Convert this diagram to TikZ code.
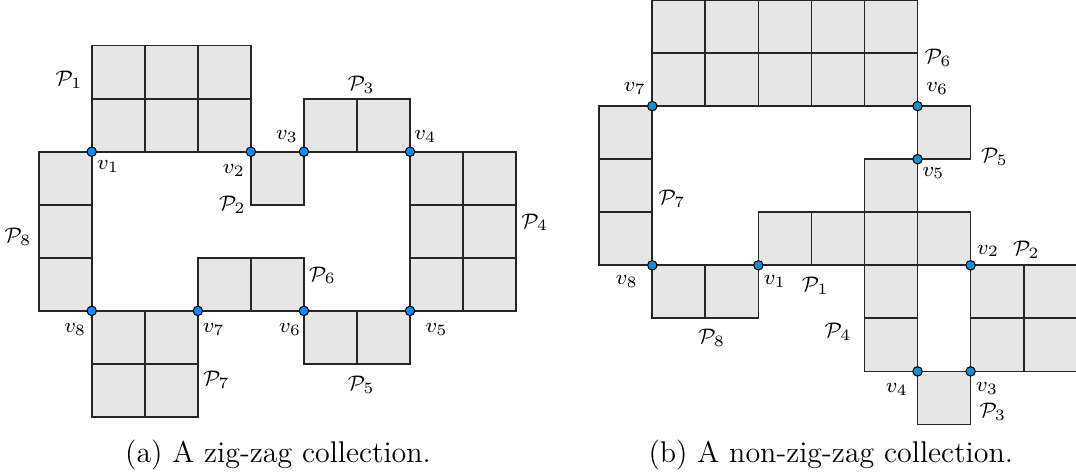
\documentclass[tikz,border=0pt]{standalone}
\usepackage{amsmath, amssymb}
\usepackage{xcolor}
\definecolor{cell-fill}{HTML}{E6E6E6}
\definecolor{cell-line}{HTML}{262626}
\definecolor{vert-blue}{HTML}{0A8CFF}
\definecolor{vert-teal}{HTML}{1A8FCC}

\begin{document}
\begin{tikzpicture}[x=0.709cm, y=0.709cm,
      every node/.style={font=\footnotesize},
      cell/.style={draw=cell-line, line width=0.65pt, fill=cell-fill},
      cellgrid/.style={draw=cell-line, line width=0.65pt, step=1},
      vert/.style={circle, draw=black, line width=0.4pt, fill=vert-blue,
                   inner sep=0pt, minimum size=3.6pt},
      caption/.style={font=\fontsize{11.4}{14}\selectfont, anchor=base}]
  \useasboundingbox (0,0) rectangle (20.283,-8.935);
  % ---- (a): zig-zag collection, origin at v1
  \begin{scope}[shift={(1.729,-2.860)}]
    \draw[cell] (0,0) rectangle (3,2);   \draw[cellgrid] (0,0) grid (3,2);
    \draw[cell] (3,-1) rectangle (4,0);
    \draw[cell] (4,0) rectangle (6,1);   \draw[cellgrid] (4,0) grid (6,1);
    \draw[cell] (6,-3) rectangle (8,0);  \draw[cellgrid] (6,-3) grid (8,0);
    \draw[cell] (4,-4) rectangle (6,-3); \draw[cellgrid] (4,-4) grid (6,-3);
    \draw[cell] (2,-3) rectangle (4,-2); \draw[cellgrid] (2,-3) grid (4,-2);
    \draw[cell] (0,-5) rectangle (2,-3); \draw[cellgrid] (0,-5) grid (2,-3);
    \draw[cell] (-1,-3) rectangle (0,0); \draw[cellgrid] (-1,-3) grid (0,0);
    \node (a-P1) at (-0.43,1.35) {$\mathcal{P}_1$};
    \node (a-P2) at (2.65,-1.0)  {$\mathcal{P}_2$};
    \node (a-P3) at (5.08,1.26)  {$\mathcal{P}_3$};
    \node (a-P4) at (8.35,-1.33) {$\mathcal{P}_4$};
    \node (a-P5) at (5.08,-4.4)  {$\mathcal{P}_5$};
    \node (a-P6) at (4.35,-2.33) {$\mathcal{P}_6$};
    \node (a-P7) at (2.35,-4.3)  {$\mathcal{P}_7$};
    \node (a-P8) at (-1.39,-1.61) {$\mathcal{P}_8$};
    \node[vert] (a-v1) at (0,0)  {};
    \node[vert] (a-v2) at (3,0)  {};
    \node[vert] (a-v3) at (4,0)  {};
    \node[vert] (a-v4) at (6,0)  {};
    \node[vert] (a-v5) at (6,-3) {};
    \node[vert] (a-v6) at (4,-3) {};
    \node[vert] (a-v7) at (2,-3) {};
    \node[vert] (a-v8) at (0,-3) {};
    \node (a-lv1) at (0.31,-0.27) {$v_1$};
    \node (a-lv2) at (2.68,-0.35) {$v_2$};
    \node (a-lv3) at (3.68,0.28)  {$v_3$};
    \node (a-lv4) at (6.29,0.28)  {$v_4$};
    \node (a-lv5) at (6.5,-3.35)  {$v_5$};
    \node (a-lv6) at (3.74,-3.35) {$v_6$};
    \node (a-lv7) at (2.3,-3.35)  {$v_7$};
    \node (a-lv8) at (-0.31,-3.35) {$v_8$};
  \end{scope}
  % ---- (b): non-zig-zag collection, origin at v8
  \begin{scope}[shift={(12.296,-5.001)}, vert/.append style={fill=vert-teal}]
    \draw[cell] (4,-2) rectangle (5,2);  \draw[cellgrid] (4,-2) grid (5,2);
    \draw[cell] (2,0) rectangle (6,1);   \draw[cellgrid] (2,0) grid (6,1);
    \draw[cell] (6,-2) rectangle (8,0);  \draw[cellgrid] (6,-2) grid (8,0);
    \draw[cell] (5,-3) rectangle (6,-2);
    \draw[cell] (5,2) rectangle (6,3);
    \draw[cell] (0,3) rectangle (5,5);   \draw[cellgrid] (0,3) grid (5,5);
    \draw[cell] (-1,0) rectangle (0,3);  \draw[cellgrid] (-1,0) grid (0,3);
    \draw[cell] (0,-1) rectangle (2,0);  \draw[cellgrid] (0,-1) grid (2,0);
    \node (b-P1) at (3.07,-0.39) {$\mathcal{P}_1$};
    \node (b-P2) at (7.05,0.29)  {$\mathcal{P}_2$};
    \node (b-P3) at (6.42,-2.77) {$\mathcal{P}_3$};
    \node (b-P4) at (3.5,-1.26)  {$\mathcal{P}_4$};
    \node (b-P5) at (6.45,2.04)  {$\mathcal{P}_5$};
    \node (b-P6) at (5.39,3.91)  {$\mathcal{P}_6$};
    \node (b-P7) at (0.37,1.25)  {$\mathcal{P}_7$};
    \node (b-P8) at (1.12,-1.37) {$\mathcal{P}_8$};
    \node[vert] (b-v1) at (2,0)  {};
    \node[vert] (b-v2) at (6,0)  {};
    \node[vert] (b-v3) at (6,-2) {};
    \node[vert] (b-v4) at (5,-2) {};
    \node[vert] (b-v5) at (5,2)  {};
    \node[vert] (b-v6) at (5,3)  {};
    \node[vert] (b-v7) at (0,3)  {};
    \node[vert] (b-v8) at (0,0)  {};
    \node (b-lv1) at (2.31,-0.3)  {$v_1$};
    \node (b-lv2) at (6.33,0.27)  {$v_2$};
    \node (b-lv3) at (6.31,-2.32) {$v_3$};
    \node (b-lv4) at (4.61,-2.34) {$v_4$};
    \node (b-lv5) at (5.3,1.74)   {$v_5$};
    \node (b-lv6) at (5.37,3.33)  {$v_6$};
    \node (b-lv7) at (-0.33,3.34) {$v_7$};
    \node (b-lv8) at (-0.48,-0.3) {$v_8$};
  \end{scope}
  % ---- captions
  \node[caption] (cap-a) at (5.24,-8.709) {(a) A zig-zag collection.};
  \node[caption] (cap-b) at (15.66,-8.709) {(b) A non-zig-zag collection.};
\end{tikzpicture}
\end{document}
